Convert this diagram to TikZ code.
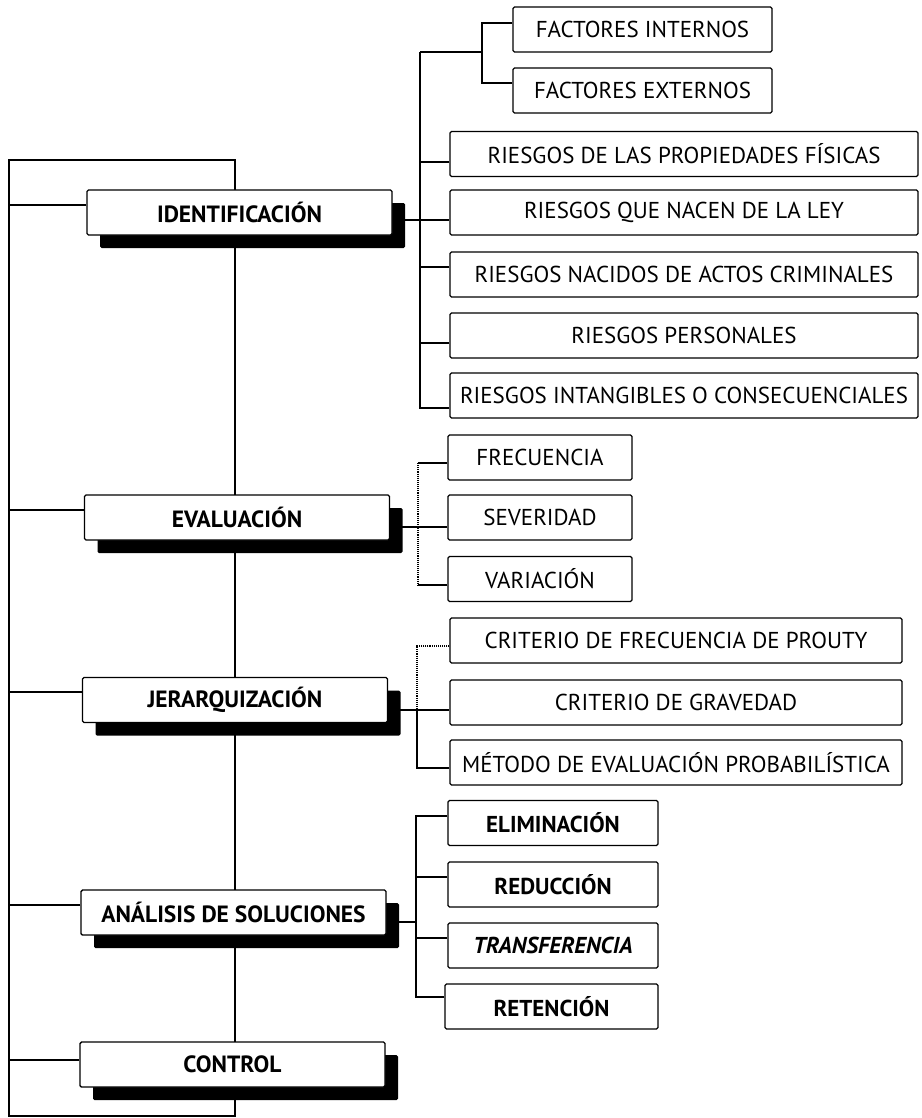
\documentclass[tikz,border=0pt]{standalone}
\usepackage{fontspec}
\setmainfont{PT Sans}
\usetikzlibrary{shadows,backgrounds}
\tikzset{
  mainbox/.style={draw, line width=1.4pt, fill=white, rounded corners=1.5pt,
    minimum width=305pt, minimum height=45pt, inner sep=0pt,
    font=\fontsize{23.5}{26}\selectfont\bfseries,
    drop shadow={shadow xshift=13pt, shadow yshift=-13pt, fill=black, opacity=1}},
  subbox/.style={draw, line width=1.1pt, fill=white, rounded corners=1.5pt,
    minimum height=45pt, inner sep=0pt, font=\fontsize{23}{26}\selectfont},
  boldsub/.style={subbox, font=\fontsize{23}{26}\selectfont\bfseries},
  link/.style={line width=1.1pt},
}
\begin{document}
\begin{tikzpicture}[x=1pt,y=-1pt]
\useasboundingbox (0,0) rectangle (921,1118);

% main column
\node[mainbox] (ident)   at (239.5,212.5) {IDENTIFICACIÓN};
\node[mainbox] (eval)    at (237,517.5)   {EVALUACIÓN};
\node[mainbox] (jerar)   at (235,700)     {JERARQUIZACIÓN};
\node[mainbox] (anal)    at (233.5,912.5) {ANÁLISIS DE SOLUCIONES};
\node[mainbox] (control) at (232.5,1064.5){CONTROL};

% identification branch
\node[subbox, minimum width=259pt] (fi) at (642.5,29.5) {FACTORES INTERNOS};
\node[subbox, minimum width=259pt] (fe) at (642.5,90.5) {FACTORES EXTERNOS};
\node[subbox, minimum width=468pt] (r1) at (684,154)   {RIESGOS DE LAS PROPIEDADES FÍSICAS};
\node[subbox, minimum width=468pt] (r2) at (684,212.5) {RIESGOS QUE NACEN DE LA LEY};
\node[subbox, minimum width=468pt] (r3) at (684,274.5) {RIESGOS NACIDOS DE ACTOS CRIMINALES};
\node[subbox, minimum width=468pt] (r4) at (684,335.5) {RIESGOS PERSONALES};
\node[subbox, minimum width=468pt] (r5) at (684,395.5) {RIESGOS INTANGIBLES O CONSECUENCIALES};

% evaluation branch
\node[subbox, minimum width=184pt] (frec) at (540,457.5) {FRECUENCIA};
\node[subbox, minimum width=184pt] (sev)  at (540,517.5) {SEVERIDAD};
\node[subbox, minimum width=184pt] (var)  at (540,579)   {VARIACIÓN};

% hierarchy branch
\node[subbox, minimum width=452pt] (prouty) at (676,640.5) {CRITERIO DE FRECUENCIA DE PROUTY};
\node[subbox, minimum width=452pt] (grav)   at (676,702.5) {CRITERIO DE GRAVEDAD};
\node[subbox, minimum width=452pt] (metodo) at (676,762.5) {MÉTODO DE EVALUACIÓN PROBABILÍSTICA};

% solutions branch
\node[boldsub, minimum width=210pt] (elim)   at (553,823)    {ELIMINACIÓN};
\node[boldsub, minimum width=210pt] (red)    at (553,884.5)  {REDUCCIÓN};
\node[boldsub, minimum width=210pt, font=\fontsize{23}{26}\selectfont\bfseries\itshape] (transf) at (553,945.5) {TRANSFERENCIA};
\node[boldsub, minimum width=213pt] (ret)    at (551.5,1006.5) {RETENCIÓN};

\begin{pgfonlayer}{background}
  % loop and spine
  \coordinate (ltop) at (9,160);
  \coordinate (stop) at (235,160);
  \coordinate (sbot) at (235,1116);
  \coordinate (lbot) at (9,1116);
  \draw[link] (ltop) -- (stop) -- (sbot) -- (lbot) -- cycle;
  \draw[link] ([yshift=7.5pt]ident.west) -| (lbot);
  \draw[link] ([yshift=7.5pt]eval.west) -| (lbot);
  \draw[link] ([yshift=8pt]jerar.west) -| (lbot);
  \draw[link] ([yshift=7.5pt]anal.west) -| (lbot);
  \draw[link] ([yshift=4.5pt]control.west) -| (lbot);

  % identification connectors
  \coordinate (ib) at (420,52);
  \coordinate (fb) at (482,52);
  \draw[link] (ib) -- (fb);
  \draw[link] ([yshift=6.5pt]fi.west) -| (fb);
  \draw[link] ([yshift=7.5pt]fe.west) -| (fb);
  \draw[link] ([yshift=-8pt]r1.west) -| (ib);
  \draw[link] ([yshift=-7.5pt]ident.east) -- ([yshift=-7.5pt]r2.west);
  \draw[link] ([yshift=7.5pt]r3.west) -| (ib);
  \draw[link] ([yshift=-7.5pt]r4.west) -| (ib);
  \draw[link] ([yshift=-12.5pt]r5.west) -| (ib);

  % evaluation connectors
  \coordinate (et) at (418,463);
  \coordinate (eb) at (418,585);
  \draw[link, densely dotted] (et) -- (eb);
  \draw[link] ([yshift=-5.5pt]frec.west) -- (et);
  \draw[link] ([yshift=-6pt]var.west) -- (eb);
  \draw[link] ([yshift=-9.5pt]eval.east) -- ([yshift=-9.5pt]sev.west);

  % hierarchy connectors
  \coordinate (jm) at (417,710);
  \draw[link] ([yshift=-10pt]jerar.east) -- ([yshift=-7.5pt]grav.west);
  \draw[link, densely dotted] ([yshift=-5.5pt]prouty.west) -| (jm);
  \draw[link] ([yshift=-5.5pt]metodo.west) -| (jm);

  % solutions connectors
  \coordinate (ab) at (416,922);
  \draw[link] ([yshift=-9.5pt]anal.east) -- (ab);
  \draw[link] ([yshift=7pt]elim.west) -| (ab);
  \draw[link] ([yshift=7.5pt]red.west) -| (ab);
  \draw[link] ([yshift=7.5pt]transf.west) -| (ab);
  \draw[link] ([yshift=9.5pt]ret.west) -| (ab);
\end{pgfonlayer}
\end{tikzpicture}
\end{document}
